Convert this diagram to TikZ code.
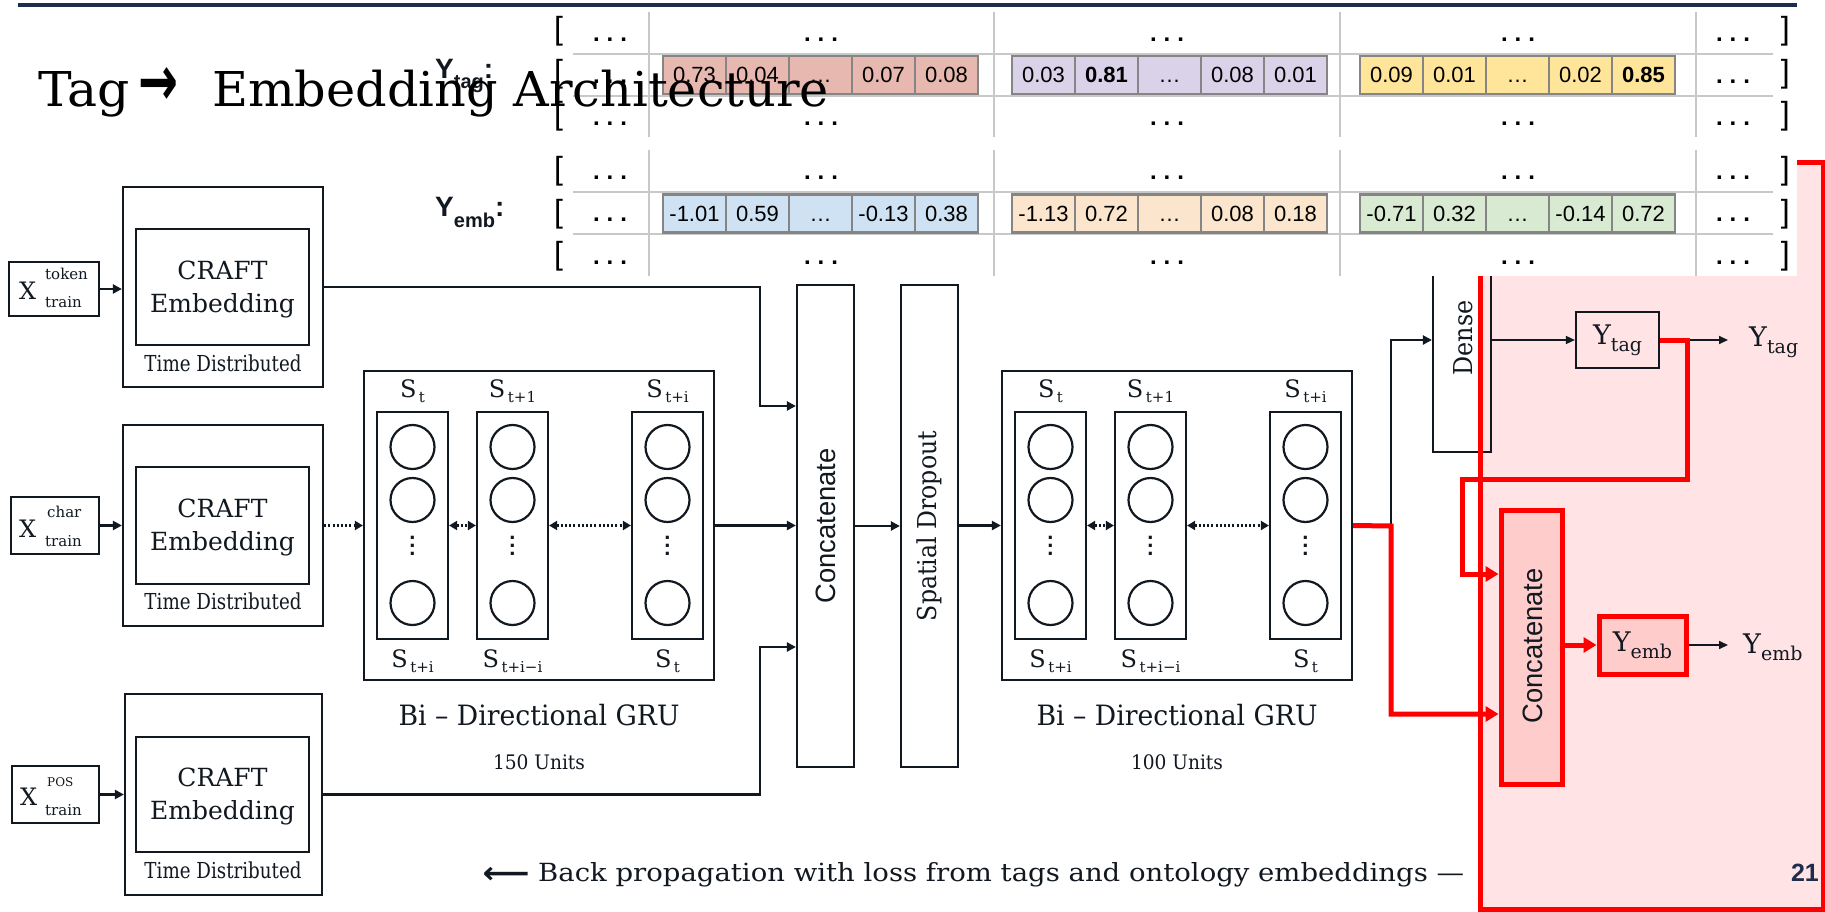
\documentclass[tikz,border=0pt]{standalone}
\usepackage{graphicx}
\usepackage{fontspec}
\setmainfont{DejaVu Serif}
\newfontfamily\tabfont{Liberation Sans}
\newfontfamily\symfont{DejaVu Sans}
\usetikzlibrary{arrows.meta,fit}

\definecolor{navy}{HTML}{1F2D4D}
\definecolor{inkc}{HTML}{111820}
\definecolor{cellred}{HTML}{E6B8AF}
\definecolor{cellpurple}{HTML}{D9D2E9}
\definecolor{cellyellow}{HTML}{FFE599}
\definecolor{cellblue}{HTML}{CFE2F3}
\definecolor{cellorange}{HTML}{FCE5CD}
\definecolor{cellgreen}{HTML}{D9EAD3}
\definecolor{cellborder}{HTML}{858585}
\definecolor{gridgray}{HTML}{C8C8C8}
\definecolor{lossbg}{HTML}{FFE3E5}
\definecolor{lossfill}{HTML}{FFCCCC}
\definecolor{lossred}{HTML}{FF0000}

% font size given in pixels of the picture (1pt = 1px here)
\newcommand{\pxfont}[1]{\fontsize{#1}{#1}\selectfont}
% squeeze or stretch a text horizontally to a given width
\newcommand{\fitw}[2]{\resizebox{#1}{\height}{#2}}
\newcommand{\Ssub}[1]{S\raisebox{-5pt}{\pxfont{15}\,#1}}
\newcommand{\Ysub}[1]{Y\raisebox{-7pt}{\pxfont{19}#1}}
% one group of five value cells: name, left x, centre y, colour, values
\newcommand{\cellgroup}[5]{%
  \foreach \v [count=\i from 0] in {#5} {
    \node[cell, fill=#4] (#1\i) at ({#2+63*\i+31.5},#3) {\v};
  }}

\begin{document}
\begin{tikzpicture}[x=1pt,y=-1pt,
  box/.style={draw=inkc, line width=2.2pt, inner sep=0pt},
  txt/.style={inner sep=0pt, text=inkc},
  unit/.style={circle, draw=inkc, line width=2.2pt, minimum size=44pt, inner sep=0pt},
  conn/.style={draw=inkc, line width=2.2pt, -{Triangle[length=9pt,width=9pt]}},
  thinconn/.style={draw=inkc, line width=1.6pt, -{Triangle[length=9pt,width=8pt]}},
  dotconn/.style={draw=inkc, line width=2.4pt, dash pattern=on 2pt off 2.2pt},
  redline/.style={draw=lossred, line width=5pt, line join=miter},
  redconn/.style={redline, -{Triangle[length=13pt,width=15pt]}},
  cell/.style={draw=cellborder, line width=2.2pt, minimum width=63pt, minimum height=38pt,
    inner sep=0pt, text height=16pt, text depth=0pt, font=\tabfont\pxfont{22}},
  grid/.style={draw=gridgray, line width=2.2pt},
  rowdots/.style={anchor=base, inner sep=0pt, font=\tabfont\bfseries\pxfont{24}},
  coldots/.style={inner sep=0pt, align=center, text=inkc, font=\tabfont\bfseries\fontsize{22}{8}\selectfont},
  brk/.style={inner sep=0pt, font=\tabfont\pxfont{32}},
]
\fill[white] (0,0) rectangle (1825,912);
\useasboundingbox (0,0) rectangle (1825,912);

% slide rule
\draw[navy, line width=4pt] (18,5) -- (1797,5);

% loss panel background
\fill[lossbg] (1480,163) rectangle (1823,909);

% ---------- input embeddings ----------
\node[box, fit={(123,187) (323,387)}] (td1) {};
\node[box, fit={(136,229) (309,345)}] (ce1) {};
\node[box, fit={(123,425) (323,626)}] (td2) {};
\node[box, fit={(136,467) (309,584)}] (ce2) {};
\node[box, fit={(125,694) (322,895)}] (td3) {};
\node[box, fit={(136,737) (309,852)}] (ce3) {};
\foreach \k/\yc/\yt in {1/289/363, 2/527/601, 3/796/870} {
  \node[txt, align=center, font=\fontsize{25}{33}\selectfont] (craft\k) at (222.5,\yc) {CRAFT\\Embedding};
  \node[txt, font=\pxfont{22}] (tdl\k) at (223,\yt) {\fitw{157pt}{Time Distributed}};
}

\node[box, fit={(9,262) (99,316)}] (xtok) {};
\node[txt, anchor=base west, font=\pxfont{24}] (xtokX) at (19,299) {X};
\node[txt, anchor=base west, font=\pxfont{15}] (xtokS) at (45,279) {token};
\node[txt, anchor=base west, font=\pxfont{15}] (xtokT) at (45,307) {train};

\node[box, fit={(11,497) (99,554)}] (xchr) {};
\node[txt, anchor=base west, font=\pxfont{24}] (xchrX) at (19,537) {X};
\node[txt, anchor=base west, font=\pxfont{15}] (xchrS) at (47,517) {char};
\node[txt, anchor=base west, font=\pxfont{15}] (xchrT) at (45,546) {train};

\node[box, fit={(12,766) (99,823)}] (xpos) {};
\node[txt, anchor=base west, font=\pxfont{24}] (xposX) at (20,805) {X};
\node[txt, anchor=base west, font=\pxfont{12}] (xposS) at (47,786) {POS};
\node[txt, anchor=base west, font=\pxfont{15}] (xposT) at (45,815) {train};

\draw[conn] (xtok.east) -- (xtok.east -| td1.west);
\draw[conn] (xchr.east) -- (xchr.east -| td2.west);
\draw[conn] (xpos.east) -- (xpos.east -| td3.west);

% ---------- recurrent layers ----------
\node[box, fit={(364,371) (714,680)}] (g1) {};
\node[box, fit={(1002,371) (1352,680)}] (g2) {};
\foreach \g/\cl in {1/377, 2/1015} {
  \foreach \k/\off in {1/0, 2/100, 3/255} {
    \pgfmathsetmacro{\xl}{\cl+\off}
    \pgfmathsetmacro{\xr}{\cl+\off+71}
    \pgfmathsetmacro{\xc}{\cl+\off+35.5}
    \node[box, fit={(\xl,412) (\xr,639)}] (col\g\k) {};
    \foreach \cy [count=\n] in {447,500,603}
      \node[unit] (u\g\k\n) at (\xc,\cy) {};
    \node[coldots] (vd\g\k) at (\xc,546) {.\\.\\.};
  }
  \pgfmathsetmacro{\ca}{\cl+35.5}
  \pgfmathsetmacro{\cb}{\cl+135.5}
  \pgfmathsetmacro{\cc}{\cl+290.5}
  \node[txt, font=\pxfont{24}] (top\g a) at (\ca,391) {\Ssub{t}};
  \node[txt, font=\pxfont{24}] (top\g b) at (\cb,391) {\Ssub{t+1}};
  \node[txt, font=\pxfont{24}] (top\g c) at (\cc,391) {\Ssub{t+i}};
  \node[txt, font=\pxfont{24}] (bot\g a) at (\ca,661) {\Ssub{t+i}};
  \node[txt, font=\pxfont{24}] (bot\g b) at (\cb,661) {\Ssub{t+i−i}};
  \node[txt, font=\pxfont{24}] (bot\g c) at (\cc,661) {\Ssub{t}};
  \draw[dotconn, {Triangle[length=8pt,width=9pt]}-{Triangle[length=8pt,width=9pt]}] (col\g1) -- (col\g2);
  \draw[dotconn, {Triangle[length=8pt,width=9pt]}-{Triangle[length=8pt,width=9pt]}] (col\g2) -- (col\g3);
}
\node[txt, font=\pxfont{28}] (g1name) at (539,715) {\fitw{281pt}{Bi – Directional GRU}};
\node[txt, font=\pxfont{20}] (g1units) at (539,762) {\fitw{92pt}{150 Units}};
\node[txt, font=\pxfont{28}] (g2name) at (1177,715) {\fitw{281pt}{Bi – Directional GRU}};
\node[txt, font=\pxfont{20}] (g2units) at (1177,762) {\fitw{92pt}{100 Units}};

\draw[dotconn, -{Triangle[length=8pt,width=9pt]}] (td2.east) -- (td2.east -| g1.west);

% ---------- merge and dropout ----------
\node[box, fit={(797,285) (854,767)}] (cc1) {};
\node[txt, rotate=90, font=\tabfont\pxfont{28}] (cc1txt) at (cc1.center) {\fitw{155pt}{Concatenate}};
\node[box, fit={(901,285) (958,767)}] (sd) {};
\node[txt, rotate=90, font=\pxfont{26}] (sdtxt) at (sd.center) {\fitw{190pt}{Spatial Dropout}};

\coordinate (j1) at (760,406);
\coordinate (j3) at (760,647);
\draw[conn] (td1.east) -| (j1) -- (j1 -| cc1.west);
\draw[conn] (td3.east) -| (j3) -- (j3 -| cc1.west);
\draw[conn] (g1.east) -- (g1.east -| cc1.west);
\draw[conn] (cc1) -- (sd);
\draw[conn] (sd.east |- g2.west) -- (g2.west);

% ---------- output heads ----------
\node[box, fit={(1433,230) (1491,452)}] (dn) {};
\node[txt, rotate=90, font=\pxfont{26}] (dntxt) at (1463,338) {\fitw{75pt}{Dense}};
\node[box, fit={(1576,312) (1659,368)}] (yt) {};
\node[txt, font=\pxfont{27}] (yttxt) at (yt.center) {\Ysub{tag}};

\coordinate (s1) at (1391,526);
\coordinate (s2) at (1391,714);
\coordinate (d1) at (1391,340);
\draw[conn] (s1) -- (d1) -- (d1 -| dn.west);
\draw[thinconn] (d1 -| dn.east) -- (d1 -| yt.west);

\coordinate (t1) at (1687,340);
\coordinate (t2) at (1687,479);
\coordinate (t3) at (1462,479);
\coordinate (t4) at (1462,574);
\coordinate (ot) at (1728,340);
\coordinate (oe) at (1728,645);
\node[txt, font=\pxfont{27}, anchor=west] (ytout) at (1749,342) {\Ysub{tag}};

\node[fit={(1501,510) (1562,784)}, inner sep=0pt, draw=lossred, fill=lossfill, line width=5pt] (cc2) {};
\node[txt, rotate=90, font=\tabfont\pxfont{28}] (cc2txt) at (1533,646) {\fitw{155pt}{Concatenate}};
\node[fit={(1599,616) (1686,674)}, inner sep=0pt, draw=lossred, fill=lossfill, line width=5pt] (ye) {};
\node[txt, font=\pxfont{27}] (yetxt) at (ye.center) {\Ysub{emb}};
\node[txt, font=\pxfont{27}, anchor=west] (yeout) at (1743,647) {\Ysub{emb}};

\draw[thinconn] (t1) -- (ot);
\draw[thinconn] (ye.east) -- (oe);
\draw[redconn] (g2.east) -- (s1) -- (s2) -- (s2 -| cc2.west);
\draw[redconn] (yt.east) -- (t1) -- (t2) -- (t3) -- (t4) -- (t4 -| cc2.west);
\draw[redconn] (cc2.east |- ye.west) -- (ye.west);

% loss panel border
\draw[lossred, line width=5pt] (1480,163) rectangle (1823,909);

% ---------- output matrices ----------
\fill[white] (425,10) rectangle (1797,276);
\foreach \yt/\yb in {12/137, 150/276}
  \foreach \xv in {649, 994, 1340, 1696}
    \draw[grid] (\xv,\yt) -- (\xv,\yb);
\foreach \yh in {54, 96, 192, 234}
  \draw[grid] (573,\yh) -- (1773,\yh);

\cellgroup{tagA}{663}{75}{cellred}{0.73,0.04,…,0.07,0.08}
\cellgroup{tagB}{1012}{75}{cellpurple}{0.03,\textbf{0.81},…,0.08,0.01}
\cellgroup{tagC}{1360}{75}{cellyellow}{0.09,0.01,…,0.02,\textbf{0.85}}
\cellgroup{embA}{663}{213.5}{cellblue}{-1.01,0.59,…,-0.13,0.38}
\cellgroup{embB}{1012}{213.5}{cellorange}{-1.13,0.72,…,0.08,0.18}
\cellgroup{embC}{1360}{213.5}{cellgreen}{-0.71,0.32,…,-0.14,0.72}

\foreach \r/\yc in {t1/33, t3/116.5, e1/171, e3/255}
  \foreach \c/\xc in {0/610, 1/821, 2/1167, 3/1518, 4/1733}
    \node[rowdots] (dot\r\c) at (\xc,\yc+9) {.\hspace{7pt}.\hspace{7pt}.};
\foreach \r/\yc in {t2/75, e2/213}
  \foreach \c/\xc in {0/610, 4/1733}
    \node[rowdots] (dot\r\c) at (\xc,\yc+9) {.\hspace{7pt}.\hspace{7pt}.};

\foreach \r/\yc in {1/31, 2/74, 3/116, 4/171, 5/214, 6/256} {
  \node[brk, anchor=west] (lb\r) at (554,\yc) {[};
  \node[brk, anchor=east] (rb\r) at (1790,\yc) {]};
}

\node[txt, anchor=base west, font=\tabfont\bfseries\pxfont{28}] (ytaglbl) at (435,79)
  {Y\raisebox{-10pt}{\pxfont{20}tag}:};
\node[txt, anchor=base west, font=\tabfont\bfseries\pxfont{28}] (yemblbl) at (435,217)
  {Y\raisebox{-10pt}{\pxfont{20}emb}:};

% ---------- slide title ----------
\node[txt, text=black, anchor=base west, font=\pxfont{48}] (title1) at (38,107) {\fitw{92pt}{Tag}};
\node[txt, text=black, font=\symfont\bfseries\pxfont{48}] (title2) at (158,87) {\resizebox{40pt}{38pt}{→}};
\node[txt, text=black, anchor=base west, font=\pxfont{48}] (title3) at (212,107) {\fitw{617pt}{Embedding Architecture}};

% ---------- footer ----------
\node[txt, font=\symfont\bfseries\pxfont{30}] (bparrow) at (506,875) {\fitw{47pt}{⟵}};
\node[txt, anchor=base west, font=\pxfont{25}] (bptext) at (538,881)
  {\fitw{926pt}{Back propagation with loss from tags and ontology embeddings —}};
\node[anchor=base east, inner sep=0pt, font=\tabfont\bfseries\pxfont{25}, text=navy] (pagenum) at (1819,881) {21};
\end{tikzpicture}
\end{document}
